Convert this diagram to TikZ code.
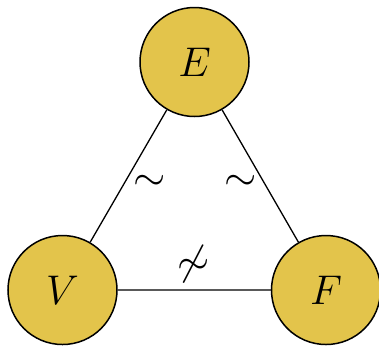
\documentclass[tikz,border=0pt]{standalone}
\usepackage{tikz}
\usetikzlibrary{positioning,calc}
\definecolor{setGold}{HTML}{E3C44B}

\begin{document}
\begin{tikzpicture}[x=0.5pt,y=-0.5pt,font=\huge]
    \tikzset{vertex/.style={circle,draw=black,fill=setGold,line width=0.75pt,minimum size=54.5pt,inner sep=0pt}}
    \tikzset{rel/.style={font=\huge,inner sep=0pt}}
    \useasboundingbox (0,0) rectangle (379,345);
    \node[vertex] (E) at (194.5,62) {$E$};
    \node[vertex] (V) at (62.5,290) {$V$};
    \node[vertex] (F) at (326,290) {$F$};
    \draw[line width=0.65pt] (E) -- (V) (E) -- (F) (V) -- (F);
    \node[rel] (ev) at (150,183) {$\sim$};
    \node[rel] (ef) at (241,183) {$\sim$};
    \node[rel] (vf) at (194,264) {$\not\sim$};
  \end{tikzpicture}
\end{document}
